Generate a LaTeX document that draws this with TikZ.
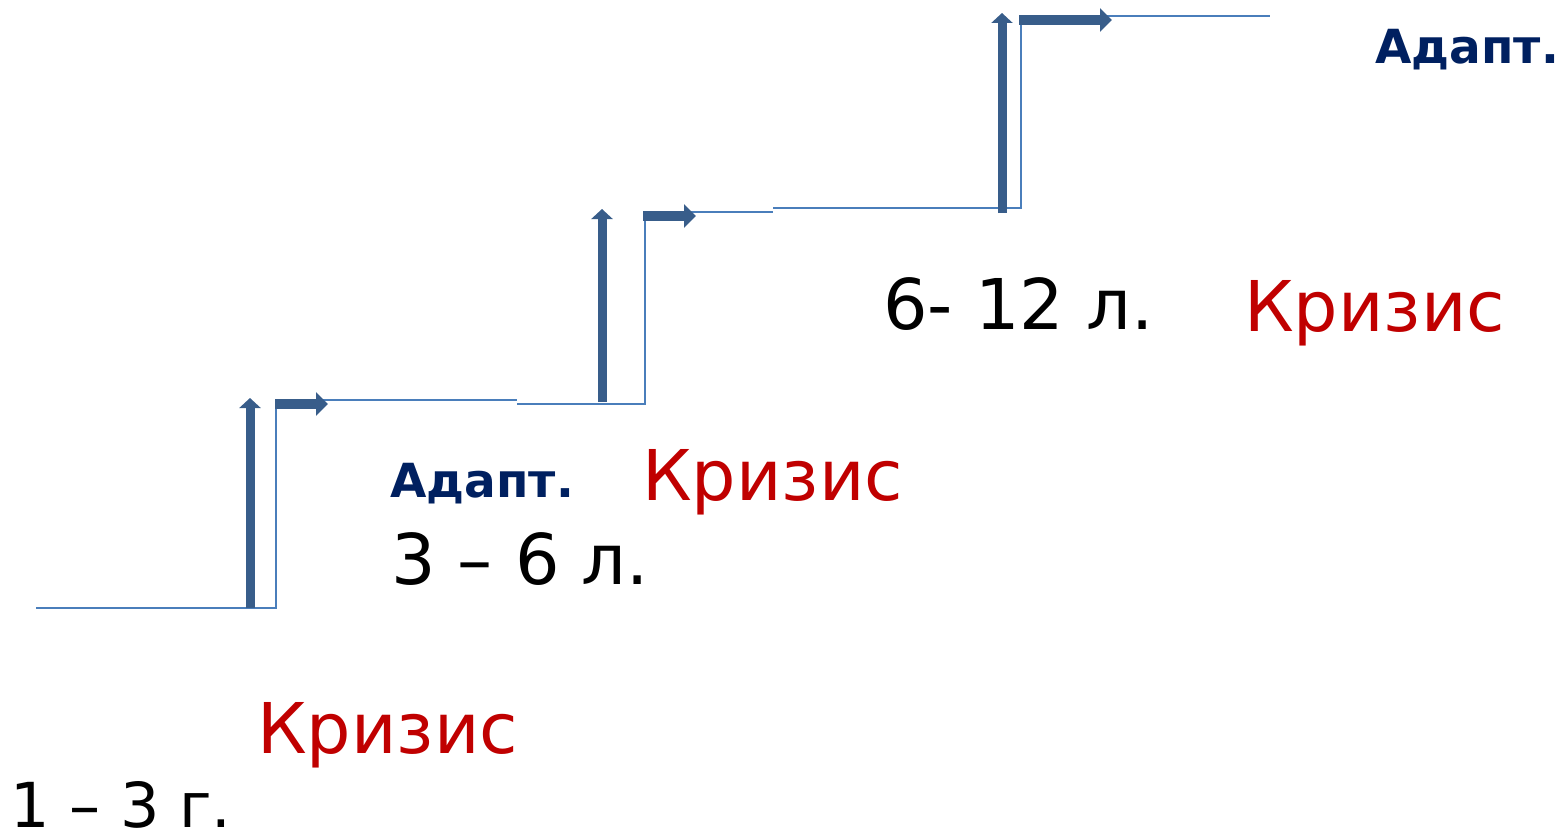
\documentclass[tikz,border=0pt]{standalone}
\usepackage{fontspec}
\setmainfont{DejaVu Sans}
\usetikzlibrary{arrows.meta}
\definecolor{liniya}{HTML}{4A7EBB}
\definecolor{strelka}{HTML}{385D8A}
\definecolor{krizis}{HTML}{C00000}
\definecolor{adapt}{HTML}{002060}
\tikzset{
  stupen/.style={liniya, line width=2pt},
  podjom/.style={strelka, line width=9pt, -{Triangle[length=10pt,width=21pt]}},
  shag/.style={strelka, line width=10pt, -{Triangle[length=12pt,width=23pt]}},
  vozrast/.style={anchor=base west, inner sep=0pt, font=\fontsize{70}{78}\selectfont},
  kriz/.style={vozrast, text=krizis},
  adpt/.style={anchor=base west, inner sep=0pt, text=adapt, font=\fontsize{47}{52}\selectfont\bfseries}
}

\begin{document}
\begin{tikzpicture}[x=1pt, y=-1pt]
      \useasboundingbox (0,0) rectangle (1561,832);
      % stupen 1
      \coordinate (a0) at (36,608);
      \coordinate (a1) at (276,608);
      \coordinate (a2) at (276,405);
      \coordinate (a3) at (322,400);
      \coordinate (a4) at (517,400);
      \draw[stupen] (a0) -- (a1) -- (a2);
      \draw[stupen] (a3) -- (a4);
      \draw[podjom] (250,608) -- (250,398);
      \draw[shag] (275,404) -- (328,404);
      % stupen 2
      \coordinate (b0) at (517,404);
      \coordinate (b1) at (645,404);
      \coordinate (b2) at (645,216);
      \coordinate (b3) at (690,212);
      \coordinate (b4) at (773,212);
      \draw[stupen] (b0) -- (b1) -- (b2);
      \draw[stupen] (b3) -- (b4);
      \draw[podjom] (602,402) -- (602,209);
      \draw[shag] (643,216) -- (696,216);
      % stupen 3
      \coordinate (c0) at (773,208);
      \coordinate (c1) at (1021,208);
      \coordinate (c2) at (1021,22);
      \coordinate (c3) at (1106,16);
      \coordinate (c4) at (1270,16);
      \draw[stupen] (c0) -- (c1) -- (c2);
      \draw[stupen] (c3) -- (c4);
      \draw[podjom] (1002,213) -- (1002,13);
      \draw[shag] (1019,20) -- (1112,20);
      % podpisi
      \node[vozrast, font=\fontsize{62}{70}\selectfont] (v1) at (10,827) {1 – 3 г.};
      \node[kriz] (k1) at (257,753) {Кризис};
      \node[adpt] (ad1) at (390,497) {Адапт.};
      \node[vozrast] (v2) at (391,584) {3 – 6 л.};
      \node[kriz] (k2) at (642,500) {Кризис};
      \node[vozrast] (v3) at (883,329) {6- 12 л.};
      \node[kriz] (k3) at (1244,331) {Кризис};
      \node[adpt] (ad2) at (1375,64) {Адапт.};
\end{tikzpicture}
\end{document}
